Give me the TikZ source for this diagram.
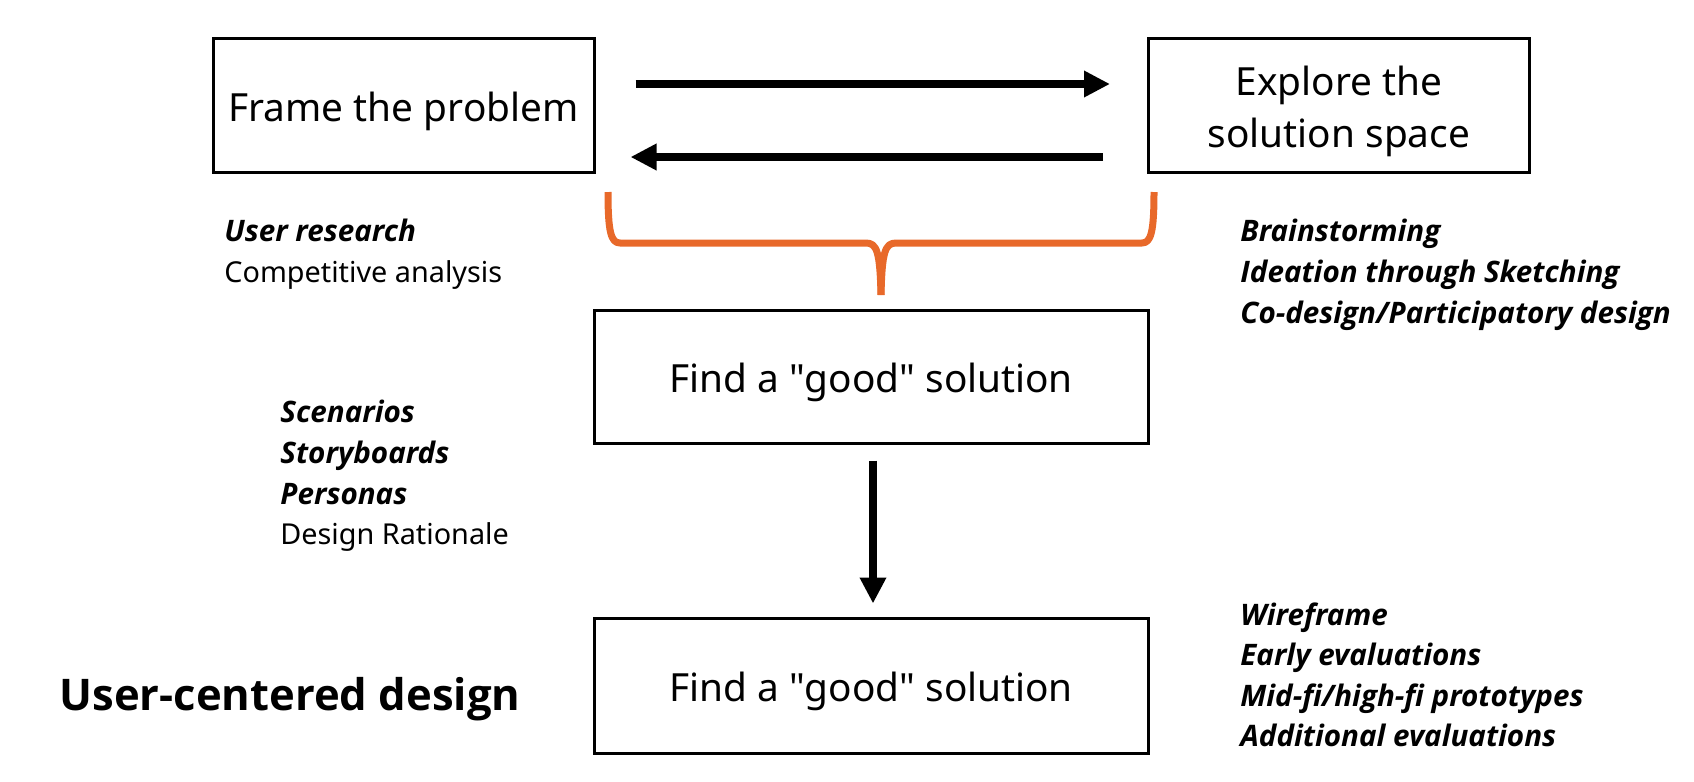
\documentclass[tikz,border=0pt]{standalone}
\usepackage{fontspec}
\setmainfont{Noto Sans}
\newfontfamily\boldfam{Open Sans}
\usetikzlibrary{arrows.meta}
\definecolor{braceorange}{HTML}{E8692A}
\newcommand\boxstrut{\rule{0pt}{21pt}}
\tikzset{
  box/.style={draw=black, line width=1.5pt, minimum width=#1, inner sep=0pt, align=center, font=\fontsize{19.4}{26}\selectfont},
  box/.default={190.5pt},
  arr/.style={line width=4pt, -{Triangle[length=13pt,width=12.5pt]}},
  note/.style={anchor=base west, inner sep=0pt, font=\fontsize{14.4}{20.5}\selectfont},
  bnote/.style={note, font=\boldfam\fontsize{14.8}{20.5}\selectfont\bfseries\itshape},
  bracepath/.style={draw=braceorange, line width=3.5pt, line join=round}
}
\begin{document}
\begin{tikzpicture}[x=0.5pt,y=-0.5pt]
\useasboundingbox (0,0) rectangle (1694,782);
% boxes
\node[box, minimum height=67pt] (frame) at (403.5,105) {\boxstrut Frame the problem};
\node[box, minimum height=67pt] (explore) at (1339,105) {\boxstrut Explore the\\solution space};
\node[box=277pt, minimum height=66.5pt] (good1) at (871,376.5) {\boxstrut Find a \textquotedbl good\textquotedbl\ solution};
\node[box=277pt, minimum height=67.5pt] (good2) at (871,685.5) {\boxstrut Find a \textquotedbl good\textquotedbl\ solution};
% arrows
\draw[arr] ([xshift=20pt,yshift=10.5pt]frame.east) -- ([xshift=-18.5pt,yshift=10.5pt]explore.west);
\draw[arr] ([xshift=-22pt,yshift=-26pt]explore.west) -- ([xshift=17.5pt,yshift=-26pt]frame.east);
\draw[arr] ([xshift=1pt,yshift=-8pt]good1.south) -- ([xshift=1pt,yshift=6.5pt]good2.north);
% brace
\draw[bracepath] (608,192) .. controls (608,232) and (611,243) .. (620,243) -- (866,243) .. controls (877,243) and (880,252) .. (881,295);
\draw[bracepath] (1154,192) .. controls (1154,232) and (1151,243) .. (1142,243) -- (896,243) .. controls (885,243) and (882,252) .. (881,295);
% notes
\node[bnote] (ur) at (224,241) {User research};
\node[note] (ca) at (224,282) {Competitive analysis};
\node[bnote] (bs) at (1240,241) {Brainstorming};
\node[bnote] (it) at (1240,282) {Ideation through Sketching};
\node[bnote] (cd) at (1240,323) {Co-design/Participatory design};
\node[bnote] (sc) at (280,422) {Scenarios};
\node[bnote] (sb) at (280,463) {Storyboards};
\node[bnote] (pe) at (280,504) {Personas};
\node[note] (dr) at (280,544) {Design Rationale};
\node[bnote] (wf) at (1240,625) {Wireframe};
\node[bnote] (ee) at (1240,665) {Early evaluations};
\node[bnote] (mf) at (1240,706) {Mid-fi/high-fi prototypes};
\node[bnote] (ae) at (1240,746) {Additional evaluations};
\node[anchor=base west, inner sep=0pt, font=\boldfam\fontsize{21.8}{26}\selectfont\bfseries] (ucd) at (59,710) {User-centered design};
\end{tikzpicture}
\end{document}
